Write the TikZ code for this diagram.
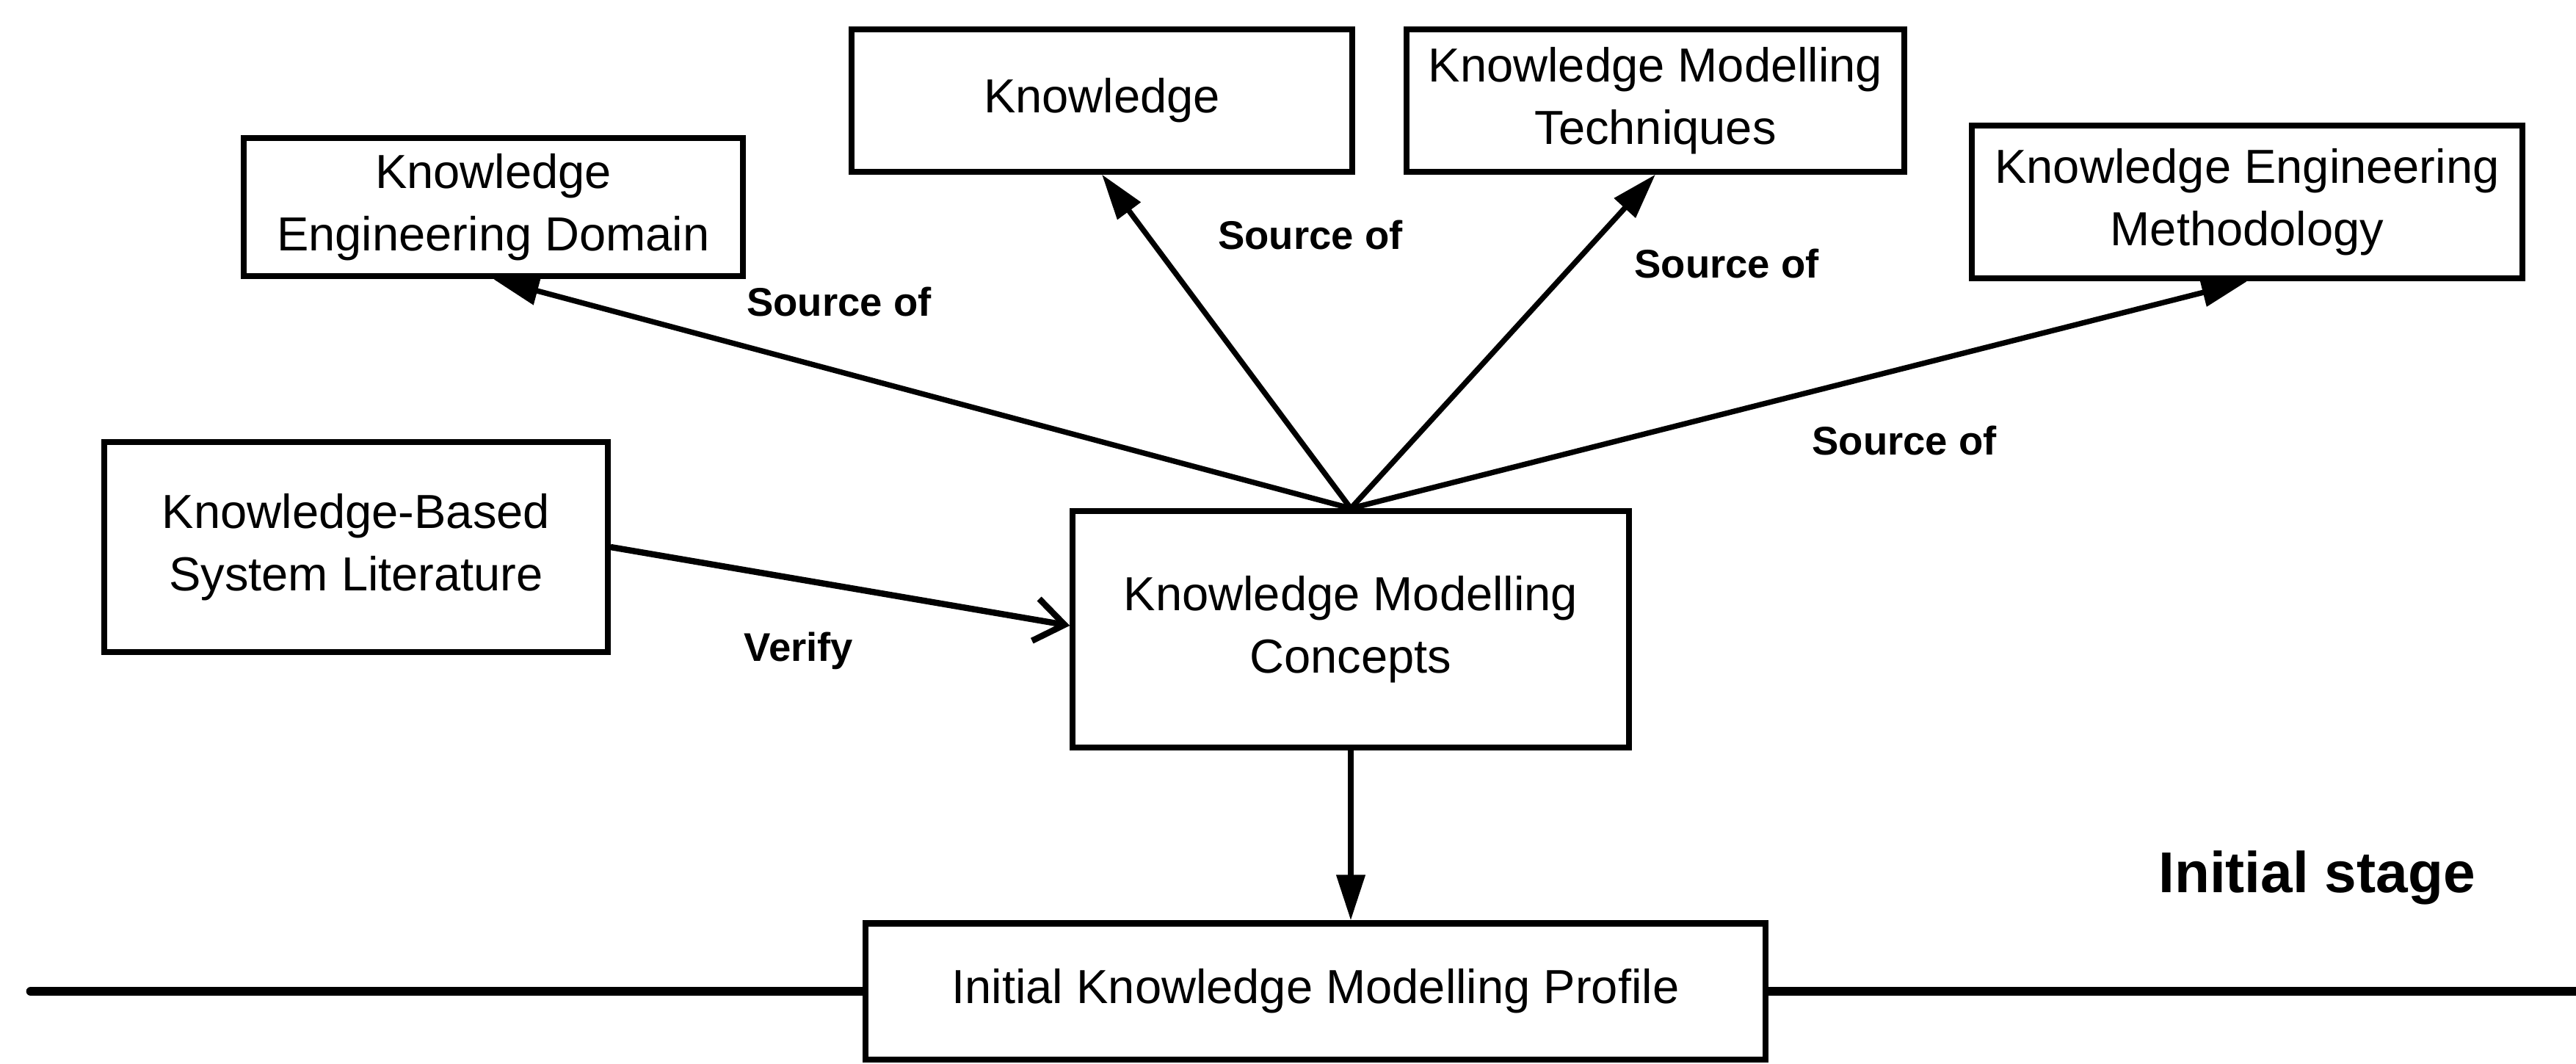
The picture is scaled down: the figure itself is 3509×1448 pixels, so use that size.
\documentclass[tikz,border=0pt]{standalone}
\usepackage{fontspec}
\setmainfont{Liberation Sans}
\usetikzlibrary{arrows.meta}
\begin{document}
\begin{tikzpicture}[x=0.01cm,y=-0.01cm,
  box/.style={draw, line width=2.3pt, align=center, inner sep=0pt,
    font=\fontsize{18.5}{24}\selectfont},
  lbl/.style={font=\fontsize{15.5}{18}\selectfont\bfseries, inner sep=0pt},
  src/.style={line width=2.1pt, -{Triangle[length=0.62cm,width=0.38cm]}},
  verify/.style={line width=2.4pt, -{Straight Barb[length=0.4cm,width=0.58cm]}},
  stage/.style={line width=3.6pt, line cap=round}]
\useasboundingbox (0,0) rectangle (3509,1448);

% boxes
\node[box, minimum width=6.79cm, minimum height=1.88cm] (ked) at (672,282) {Knowledge\\Engineering Domain};
\node[box, minimum width=6.81cm, minimum height=1.93cm] (kn) at (1501,137) {Knowledge};
\node[box, minimum width=6.77cm, minimum height=1.93cm] (kmt) at (2255,137) {Knowledge Modelling\\Techniques};
\node[box, minimum width=7.50cm, minimum height=2.08cm] (kem) at (3061,275) {Knowledge Engineering\\Methodology};
\node[box, minimum width=6.85cm, minimum height=2.86cm] (kbs) at (485,745) {Knowledge-Based\\System Literature};
\node[box, minimum width=7.57cm, minimum height=3.21cm] (kmc) at (1840,857) {Knowledge Modelling\\Concepts};
\node[box, minimum width=12.26cm, minimum height=1.85cm] (prof) at (1792,1350) {Initial Knowledge Modelling Profile};

% stage boundary
\coordinate (lineL) at (42,1350);
\coordinate (lineR) at (3509,1350);
\draw[stage] (lineL) -- (prof.west);
\draw[stage, line cap=butt] (prof.east) -- (lineR);

% connectors
\draw[src] (kmc.north) -- (ked.south);
\draw[src] (kmc.north) -- (kn.south);
\draw[src] (kmc.north) -- (kmt.south);
\draw[src] (kmc.north) -- (kem.south);
\draw[verify] (kbs.east |- 0,745) -- (kmc.west |- 0,852);
\draw[src] (kmc.south) -- (kmc.south |- prof.north);

% labels
\node[lbl] (l1) at (1143,411) {Source of};
\node[lbl] (l2) at (1785,320) {Source of};
\node[lbl] (l3) at (2352,359) {Source of};
\node[lbl] (l4) at (2594,600) {Source of};
\node[lbl] (l5) at (1088,886) {Verify};
\node[font=\fontsize{22.3}{26}\selectfont\bfseries, inner sep=0pt] (stg) at (3156,1195) {Initial stage};
\end{tikzpicture}
\end{document}
